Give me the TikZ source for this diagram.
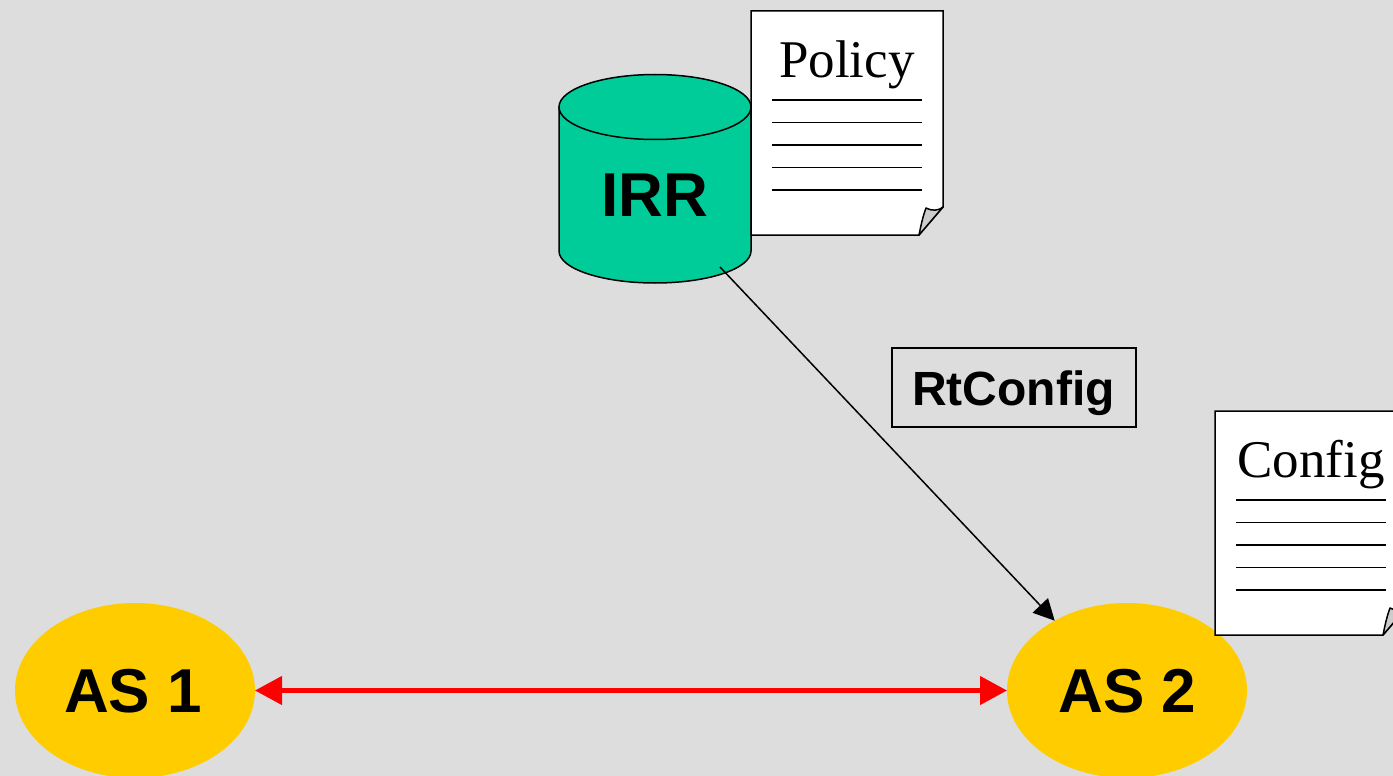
\documentclass[tikz,border=0pt]{standalone}
\usepackage{fontspec}
\setmainfont{Liberation Serif}
\newfontfamily\arialfont{Liberation Sans}
\usetikzlibrary{arrows.meta,shapes.geometric}
\tikzset{
  x=1pt,y=-1pt,
  asnode/.style={ellipse,fill=asyellow,minimum width=240pt,minimum height=175pt,inner sep=0pt,outer sep=0pt},
  bigbold/.style={anchor=base,inner sep=0pt,font=\arialfont\bfseries\fontsize{62}{62}\selectfont},
  doctitle/.style={anchor=base,inner sep=0pt,font=\fontsize{53}{53}\selectfont},
  docbody/.style={draw=black,fill=white,line width=1.5pt,line join=miter},
  docfold/.style={draw=black,fill=foldgray,line width=1.5pt,line join=round},
  docline/.style={draw=black,line width=1.6pt},
  shapeline/.style={draw=black,line width=1.5pt},
  rtbox/.style={draw=black,fill=bggray,line width=1.2pt,minimum width=244pt,minimum height=79pt,inner sep=0pt,outer sep=0pt},
  linkarrow/.style={draw=red,line width=4.5pt,{Triangle[length=27pt,width=28pt,fill=red]}-{Triangle[length=27pt,width=28pt,fill=red]}},
  cfgarrow/.style={draw=black,line width=1.5pt,-{Triangle[length=21pt,width=21pt,fill=black]}},
}
\definecolor{bggray}{HTML}{DDDDDD}
\definecolor{irrgreen}{HTML}{00CC99}
\definecolor{asyellow}{HTML}{FFCC00}
\definecolor{foldgray}{HTML}{CCCCCC}
\newcommand{\docsheet}[3]{%
  \begin{scope}[shift={(#1,#2)}]
    \path[docbody] (0,0) -- (192,0) -- (192,196) -- (168,224) -- (0,224) -- cycle;
    \path[docfold] (168,224) .. controls (170,214) and (172,205) .. (175,197) .. controls (180,200) and (188,200) .. (192,196) -- cycle;
    \foreach \ly in {89,111.5,134,156.5,179}{\path[docline] (21,\ly) -- (171,\ly);}
    \node[doctitle] (#3) at (96,66.5) {#3};
  \end{scope}}
\begin{document}
\begin{tikzpicture}
\useasboundingbox (0,0) rectangle (1393,776);
\clip (0,0) rectangle (1393,776);
\fill[bggray] (0,0) rectangle (1393,776);
% cylinder
\path[shapeline,fill=irrgreen] (559,107) -- (559,251) arc[start angle=180,end angle=0,x radius=96,y radius=32] -- (751,107) -- cycle;
\path[shapeline,fill=irrgreen] (655,107) ellipse[x radius=96,y radius=32.5];
\node[bigbold] (irr) at (654.5,216) {IRR};
% document Policy
\docsheet{751}{11}{Policy}
% AS nodes
\node[asnode] (as1) at (135,690.5) {};
\node[asnode] (as2) at (1127,690.5) {};
\node[bigbold] (as1t) at (133,712.5) {AS 1};
\node[bigbold] (as2t) at (1127.5,712.5) {AS 2};
% connectors
\coordinate (irrout) at (720,267);
\draw[linkarrow] (as1) -- (as2);
\draw[cfgarrow] (irrout) -- (as2.136);
% RtConfig box
\node[rtbox] (rt) at (1014,387.5) {};
\node[anchor=base,inner sep=0pt,font=\arialfont\bfseries\fontsize{48}{48}\selectfont] (rtt) at (1013.5,405.5) {RtConfig};
% document Config
\docsheet{1215}{411}{Config}
\end{tikzpicture}
\end{document}
